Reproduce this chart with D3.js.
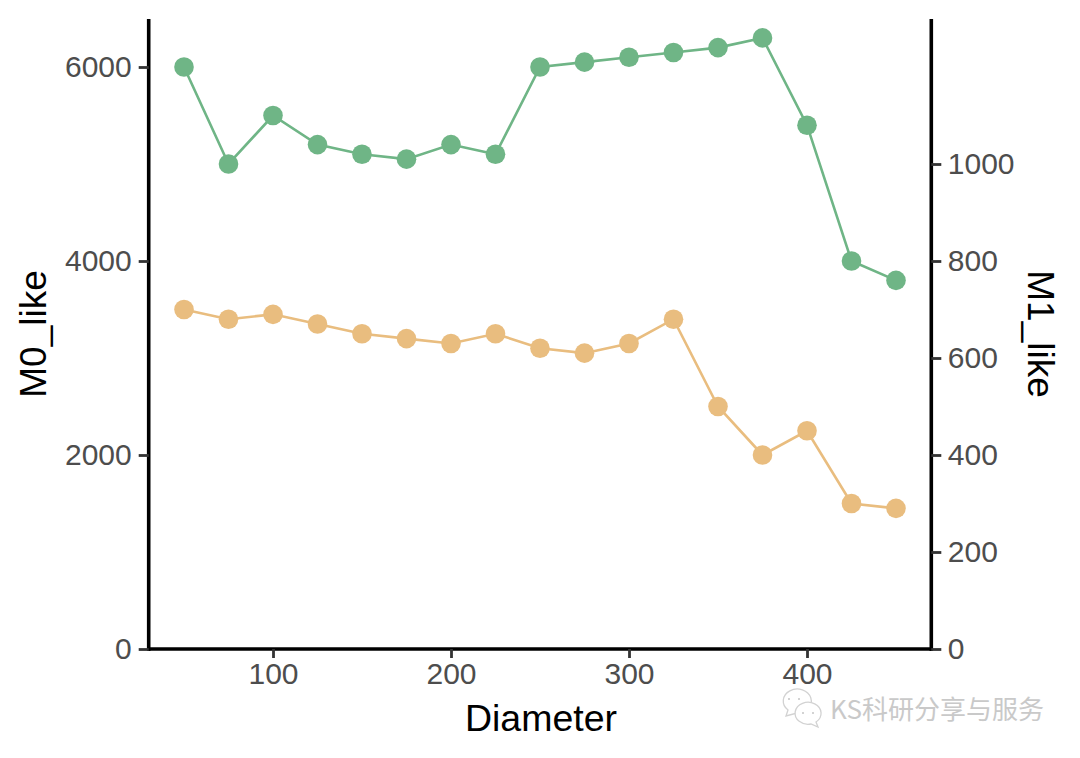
<!DOCTYPE html>
<html><head><meta charset="utf-8"><script src="https://cdn.jsdelivr.net/npm/d3@7"></script>
<style>html,body{margin:0;background:#fff}svg{display:block}text{font-family:"Liberation Sans",Arial,sans-serif}</style></head><body><script>
const diameters=[50,75,100,125,150,175,200,225,250,275,300,325,350,375,400,425,450];
const m0Like=[6000,5000,5500,5200,5100,5050,5200,5100,6000,6050,6100,6150,6200,6300,5400,4000,3800];
const m1Like=[700,680,690,670,650,640,630,650,620,610,630,680,500,400,450,300,290];
const xTicks=[100,200,300,400], y0Ticks=[0,2000,4000,6000], y1Ticks=[0,200,400,600,800,1000];
const svg=d3.select("body").append("svg").attr("width",1080).attr("height",758);
const x=d3.scaleLinear().domain([50,450]).range([184,896]);
const y0=d3.scaleLinear().domain([0,6000]).range([649,67]);
const y1=d3.scaleLinear().domain([0,1000]).range([649,164]);
const axis=g=>{g.selectAll("path").attr("stroke","#000").attr("stroke-width",3.6);
 g.selectAll("line").attr("stroke","#333").attr("stroke-width",2.8);
 g.selectAll("text").attr("fill","#4d4d4d").attr("font-size",30);};
const gx=svg.append("g").attr("transform","translate(0,649)").call(d3.axisBottom(x).tickValues(xTicks).tickFormat(d3.format("d")).tickSize(9).tickSizeOuter(0).tickPadding(5));
gx.select("path").attr("d","M147,0H933");axis(gx);
const gl=svg.append("g").attr("transform","translate(148.7,0)").call(d3.axisLeft(y0).tickValues(y0Ticks).tickFormat(d3.format("d")).tickSize(10).tickSizeOuter(0).tickPadding(7));
gl.select("path").attr("d","M0,19V651");axis(gl);
const gr=svg.append("g").attr("transform","translate(931.3,0)").call(d3.axisRight(y1).tickValues(y1Ticks).tickFormat(d3.format("d")).tickSize(10).tickSizeOuter(0).tickPadding(6.5));
gr.select("path").attr("d","M0,19V651");axis(gr);
const draw=(vals,y,c)=>{
 svg.append("path").datum(vals).attr("fill","none").attr("stroke",c).attr("stroke-width",2.6)
  .attr("d",d3.line().x((d,i)=>x(diameters[i])).y(d=>y(d)));
 svg.append("g").selectAll("circle").data(vals).join("circle").attr("cx",(d,i)=>x(diameters[i])).attr("cy",d=>y(d)).attr("r",9.8).attr("fill",c);
};
draw(m0Like,y0,"#6fb586");
draw(m1Like,y1,"#e9bd7f");
svg.append("text").attr("x",541).attr("y",731).attr("text-anchor","middle").attr("font-size",37.5).text("Diameter");
svg.append("text").attr("transform","translate(46,334) rotate(-90)").attr("text-anchor","middle").attr("font-size",37).text("M0_like");
svg.append("text").attr("transform","translate(1028,334) rotate(90)").attr("text-anchor","middle").attr("font-size",37).text("M1_like");
// watermark
const wm=svg.append("g").attr("fill","#fff").attr("stroke","#d2d2d2").attr("stroke-width",1.3);
wm.append("path").attr("d","M786,716 L788,710 A14,12 0 1 1 797,713 Z");
wm.append("path").attr("d","M818,727 L816,722 A13,11 0 1 0 811,724 Z");
wm.selectAll(".d").data([[789,699],[799,699],[803,713],[813,713]]).join("circle").attr("cx",d=>d[0]).attr("cy",d=>d[1]).attr("r",1).attr("stroke","none").attr("fill","#c4c4c4");
svg.append("text").attr("x",830).attr("y",719).attr("font-size",26).attr("fill","#c9c9c9").style("font-family",'"Noto Sans CJK SC"').text("KS科研分享与服务");
</script></body></html>
